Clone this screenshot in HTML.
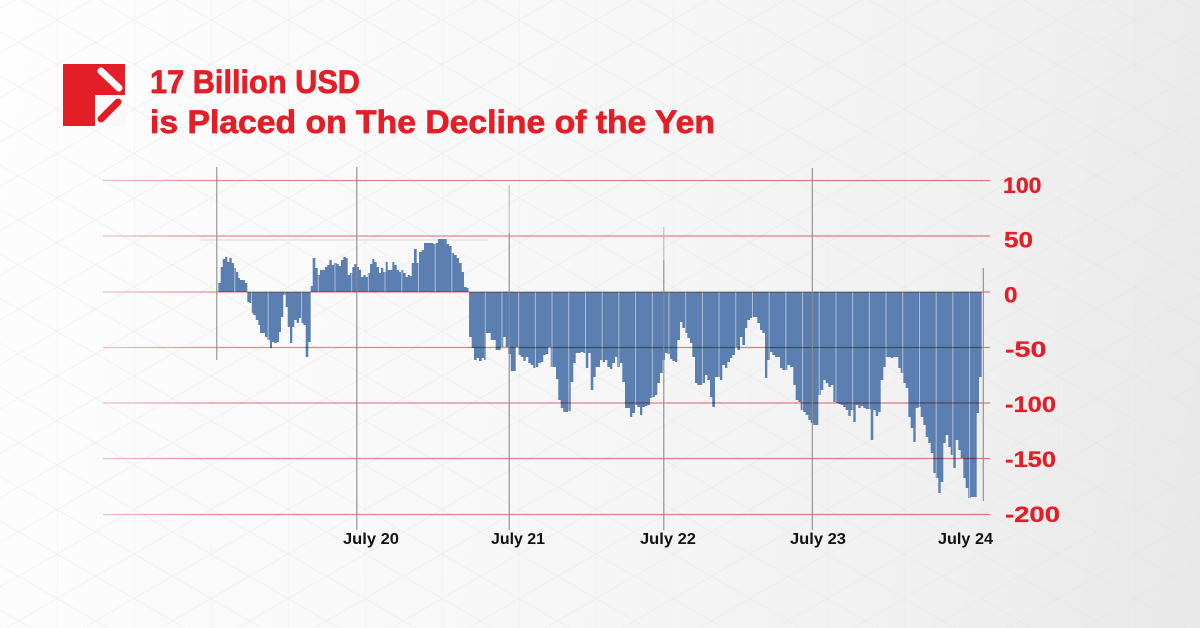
<!DOCTYPE html>
<html>
<head>
<meta charset="utf-8">
<style>
  html,body{margin:0;padding:0;}
  body{width:1200px;height:628px;overflow:hidden;
    background:linear-gradient(100deg,#fdfdfd 0%,#f8f8f8 40%,#f1f1f1 75%,#e8e8e8 100%);}
  svg{display:block;}
  .gl{mix-blend-mode:multiply;}
</style>
</head>
<body>
<svg width="1200" height="628" viewBox="0 0 1200 628" xmlns="http://www.w3.org/2000/svg">
  <defs>
    <linearGradient id="gridfade" x1="103" y1="0" x2="990" y2="0" gradientUnits="userSpaceOnUse">
      <stop offset="0" stop-color="#f6c4c4"/>
      <stop offset="0.13" stop-color="#ef8a8a"/>
      <stop offset="1" stop-color="#ee8080"/>
    </linearGradient>
    <pattern id="gaps" x="0.5" y="0" width="16.7" height="10" patternUnits="userSpaceOnUse">
      <rect x="0" y="0" width="0.9" height="10" fill="#ffffff" fill-opacity="0.55"/>
    </pattern>
    <pattern id="tri" x="-20" y="20" width="77" height="89" patternUnits="userSpaceOnUse">
      <g stroke="#e0e0e0" stroke-width="1" fill="none" stroke-opacity="0.35">
        <line x1="0" y1="0" x2="0" y2="89"/>
        <line x1="0" y1="0" x2="77" y2="44.5"/>
        <line x1="0" y1="44.5" x2="77" y2="89"/>
        <line x1="0" y1="44.5" x2="77" y2="0"/>
        <line x1="0" y1="89" x2="77" y2="44.5"/>
      </g>
    </pattern>
  </defs>

  <!-- faint background triangle lattice -->
  <rect x="0" y="0" width="1200" height="628" fill="url(#tri)"/>

  <!-- logo -->
  <rect x="63" y="64" width="62" height="62" fill="#e41e26"/>
  <rect x="95" y="95" width="31" height="32" fill="#f9f9f9"/>
  <line x1="101" y1="71" x2="119" y2="88" stroke="#ffffff" stroke-width="7" stroke-linecap="round"/>
  <line x1="101" y1="119" x2="118" y2="102" stroke="#e41e26" stroke-width="7" stroke-linecap="round"/>

  <!-- title -->
  <g font-family="Liberation Sans, sans-serif" font-weight="bold" font-size="32" fill="#e41e26" stroke="#e41e26" stroke-width="0.7">
    <text x="150" y="93" textLength="210" lengthAdjust="spacingAndGlyphs">17 Billion USD</text>
    <text x="150" y="133" textLength="565" lengthAdjust="spacingAndGlyphs">is Placed on The Decline of the Yen</text>
  </g>

  <!-- faint grey band line -->
  <line x1="200" y1="240" x2="488" y2="240" stroke="#e4e4e4" stroke-width="1.5"/>

  <!-- bars -->
  <g fill="#5b7fb1">
    <path id="p1" d="M218.3,292 V283 H220.7 V267 H222.7 V259 H225 V257 H227.3 V262 H229.3 V258 H231.7 V263 H234 V268 H236 V272 H238.3 V278 H240 V280 H245 V283 H247.3 V292 Z"/>
    <path id="n1" d="M247.3,292 V302 H249.3 V303 H251.7 V313 H253.3 V315 H255.7 V320 H258.3 V325 H260 V333 H265 V337 H267.3 V340 H270 V348 H272 V342 H274.3 V343 H276.7 V342 H279 V332 H281 V317 H283.3 V295 H285.7 V307 H287.7 V327 H290 V343 H292.3 V327 H294.3 V320 H296.7 V323 H299 V318 H301 V323 H303.3 V325 H305.7 V357 H308.3 V342 H310.7 V292 Z"/>
    <path id="p2" d="M310.7,292 V286 H312.7 V258 H315.3 V268 H317.7 V275 H320 V270 H325 V267 H327.3 V265 H329.3 V260 H331.7 V265 H334 V263 H336.7 V264 H338.7 V266 H341 V260 H343.3 V257 H345.7 V258 H347.7 V275 H350 V273 H352.3 V267 H354.3 V264 H356.7 V267 H359 V270 H361 V277 H363.3 V275 H365.7 V277 H367.7 V273 H370 V264 H372.3 V259 H374.3 V262 H376.7 V267 H379 V273 H381 V268 H383.3 V272 H385.7 V262 H387.7 V270 H392.3 V262 H394.3 V265 H396.7 V270 H399 V272 H401 V270 H403.3 V273 H405.7 V277 H407.7 V275 H410 V276 H411.7 V263 H414 V249 H416.7 V263 H419 V252 H421.7 V250 H424 V243 H433.3 V244 H435.7 V243 H438 V239 H446.7 V244 H449 V246 H451.7 V253 H454 V255 H456.7 V258 H459 V263 H461.7 V272 H464 V287 H466.7 V288 H469 V292 Z"/>
    <path id="n2" d="M469,292 V337 H471.7 V348 H474 V360 H476.7 V358 H479 V361 H481.7 V358 H484 V360 H486 V333 H490.7 V340 H495.7 V350 H500.7 V347 H503.3 V337 H505.7 V347 H508.3 V354 H510.7 V371 H515.7 V347 H518.3 V355 H520.7 V357 H523.3 V361 H525.7 V357 H528.3 V363 H530.7 V365 H533.3 V368 H535.7 V367 H538.3 V363 H540.7 V362 H543.3 V355 H545.7 V354 H548.3 V347 H550.7 V367 H556 V379 H558.3 V400 H560.7 V408 H563.3 V412 H568.3 V411 H570.7 V382 H573.3 V363 H575.7 V353 H580.7 V352 H583.3 V353 H585.7 V368 H588.3 V353 H590.7 V390 H593.3 V377 H595.7 V367 H600 V360 H602.7 V362 H605 V360 H607.3 V367 H610 V369 H612.3 V363 H615 V357 H617.3 V367 H620 V363 H622.3 V382 H625 V408 H630 V417 H632.3 V413 H635 V405 H637.3 V407 H640 V415 H642.3 V407 H645 V406 H647.3 V405 H650 V398 H652.3 V397 H655 V395 H657.3 V383 H660 V373 H662.7 V360 H665 V353 H667.3 V354 H670 V359 H672.3 V361 H675 V362 H677.3 V340 H680 V322 H682.3 V328 H685 V333 H687.3 V338 H690 V343 H692.3 V357 H695 V383 H697.3 V385 H702.3 V383 H705 V375 H707.3 V380 H710 V397 H712.3 V407 H715 V377 H720 V380 H722.3 V365 H725 V368 H727.3 V362 H730 V358 H732.3 V355 H735 V347 H737.3 V350 H740 V337 H742.3 V345 H745 V328 H747.3 V320 H750 V318 H752.3 V317 H757.3 V323 H760 V330 H762.3 V333 H765 V378 H767.3 V360 H770 V352 H772.3 V355 H775 V357 H780 V368 H782.3 V370 H787.3 V365 H790 V367 H793.3 V385 H795.7 V400 H798.3 V402 H800.7 V410 H803.3 V412 H805.7 V415 H808.3 V420 H810.7 V423 H813.3 V425 H818.3 V395 H820.7 V390 H823.3 V380 H825.7 V383 H828.3 V387 H830.7 V385 H833.3 V402 H835.7 V403 H838.3 V404 H840.7 V405 H843.3 V407 H845.7 V410 H848.3 V416 H850.7 V410 H853.3 V422 H855.7 V405 H858.3 V408 H860.7 V406 H863.3 V408 H865.7 V409 H870.7 V440 H873.3 V410 H875.7 V416 H878.3 V412 H880.7 V380 H883.3 V367 H885.7 V357 H890.7 V358 H893.3 V357 H898.3 V368 H900.7 V373 H903.3 V383 H905.7 V388 H908.3 V417 H910.7 V428 H913.3 V442 H915.7 V408 H918.3 V407 H920.7 V417 H923.3 V425 H925.7 V437 H928.3 V443 H930.7 V453 H933.3 V473 H935.7 V478 H938.3 V493 H940.7 V482 H943.3 V443 H945.7 V435 H948.3 V447 H950.7 V455 H953.3 V468 H955.7 V440 H958.3 V450 H960.7 V458 H963.3 V478 H965.7 V488 H968.3 V498 H970.7 V497 H976.7 V413 H979 V377 H981.7 V292 Z"/>
  </g>
  <!-- light gaps between bar groups -->
  <g fill="url(#gaps)">
    <use href="#p1"/><use href="#n1"/><use href="#p2"/><use href="#n2"/>
  </g>

  <!-- horizontal gridlines -->
  <g class="gl" stroke="url(#gridfade)" stroke-width="1.3">
    <line x1="103" y1="180.5" x2="990" y2="180.5"/>
    <line x1="103" y1="236" x2="990" y2="236"/>
    <line x1="103" y1="292" x2="990" y2="292"/>
    <line x1="103" y1="347.5" x2="990" y2="347.5"/>
    <line x1="103" y1="403" x2="990" y2="403"/>
    <line x1="103" y1="458.5" x2="990" y2="458.5"/>
    <line x1="103" y1="514.5" x2="990" y2="514.5"/>
  </g>

  <!-- vertical lines -->
  <g stroke="#8c8c8c" stroke-width="1.1">
    <line x1="216.8" y1="167" x2="216.8" y2="360"/>
    <line x1="356.8" y1="167" x2="356.8" y2="530"/>
    <line x1="509.2" y1="233" x2="509.2" y2="530"/>
    <line x1="663.8" y1="260" x2="663.8" y2="530"/>
    <line x1="812.3" y1="168" x2="812.3" y2="530"/>
    <line x1="983.3" y1="268" x2="983.3" y2="501"/>
  </g>
  <g stroke="#b4b4b4" stroke-width="1">
    <line x1="509.2" y1="185" x2="509.2" y2="233"/>
    <line x1="663.8" y1="227" x2="663.8" y2="260"/>
  </g>

  <!-- y-axis labels -->
  <g font-family="Liberation Sans, sans-serif" font-weight="bold" font-size="22" fill="#e41e26" stroke="#e41e26" stroke-width="0.3">
    <text x="1003" y="193" textLength="38.5" lengthAdjust="spacingAndGlyphs">100</text>
    <text x="1004" y="247.5" textLength="29" lengthAdjust="spacingAndGlyphs">50</text>
    <text x="1004" y="302.5" textLength="13.5" lengthAdjust="spacingAndGlyphs">0</text>
    <text x="1005" y="357" textLength="41.5" lengthAdjust="spacingAndGlyphs">-50</text>
    <text x="1005" y="412" textLength="51" lengthAdjust="spacingAndGlyphs">-100</text>
    <text x="1005" y="467" textLength="51" lengthAdjust="spacingAndGlyphs">-150</text>
    <text x="1005" y="522" textLength="55" lengthAdjust="spacingAndGlyphs">-200</text>
  </g>

  <!-- x-axis labels -->
  <g font-family="Liberation Sans, sans-serif" font-weight="bold" font-size="16" fill="#111111">
    <text x="343" y="544" textLength="56" lengthAdjust="spacingAndGlyphs">July 20</text>
    <text x="491" y="544" textLength="54" lengthAdjust="spacingAndGlyphs">July 21</text>
    <text x="640" y="544" textLength="56" lengthAdjust="spacingAndGlyphs">July 22</text>
    <text x="790" y="544" textLength="56" lengthAdjust="spacingAndGlyphs">July 23</text>
    <text x="938" y="544" textLength="55" lengthAdjust="spacingAndGlyphs">July 24</text>
  </g>
</svg>
</body>
</html>
